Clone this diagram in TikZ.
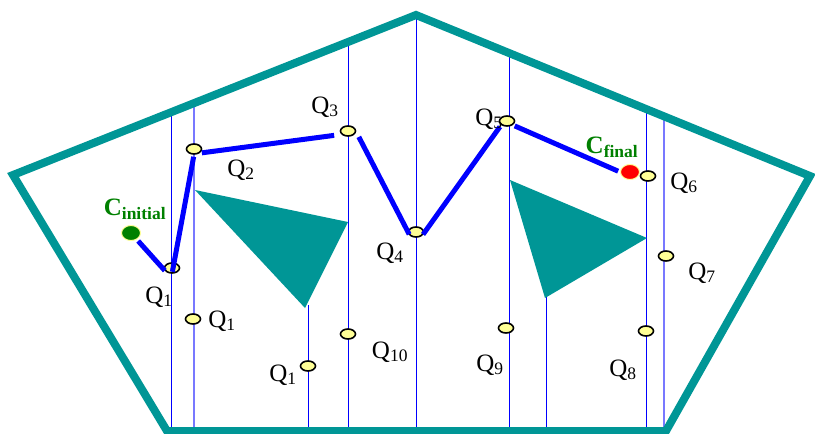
\documentclass[tikz,border=0pt]{standalone}
\usepackage{fontspec}
\setmainfont{Liberation Serif}
\usetikzlibrary{shapes.geometric}
\definecolor{tealc}{RGB}{0,150,150}
\definecolor{ptfill}{RGB}{255,255,150}
\definecolor{cgreen}{RGB}{0,128,0}
\definecolor{lblue}{RGB}{120,120,255}
\tikzset{
  border/.style={draw=tealc,line width=8pt,line join=miter},
  obst/.style={fill=tealc,draw=none},
  vline/.style={draw=blue,line width=1pt},
  vlinel/.style={draw=lblue,line width=1.4pt},
  pathseg/.style={draw=blue,line width=5pt,shorten <=2pt,shorten >=2pt},
  pt/.style={ellipse,draw=black,fill=ptfill,line width=1.6pt,minimum width=15pt,minimum height=10pt,inner sep=0pt},
  lbl/.style={font=\fontsize{25}{28}\selectfont,inner sep=0pt},
  clbl/.style={font=\fontsize{25}{28}\selectfont\bfseries,text=cgreen,inner sep=0pt},
}
\begin{document}
\begin{tikzpicture}[x=1pt,y=-1pt]
\useasboundingbox (0,0) rectangle (815,434);
% vertical lines
\draw[vline] (171,111) -- (171,430);
\draw[vlinel] (194,102) -- (194,430);
\draw[vline] (308,305) -- (308,430);
\draw[vline] (348,42) -- (348,430);
\draw[vline] (416,14) -- (416,430);
\draw[vline] (509,52) -- (509,430);
\draw[vline] (546,295) -- (546,430);
\draw[vline] (646,109) -- (646,430);
\draw[vlinel] (664,117) -- (664,430);
% obstacles
\fill[obst] (195,190) -- (348,222) -- (305,308) -- cycle;
\fill[obst] (510,180) -- (647,238) -- (545,298) -- cycle;
% border
\draw[border] (416,15) -- (810,176) -- (666,431) -- (167,431) -- (13,175) -- cycle;
% configuration points
\node[ellipse,fill=cgreen,draw=ptfill,line width=1pt,minimum width=19pt,minimum height=15pt,inner sep=0pt] (ci) at (131,233) {};
\node[ellipse,fill=red,draw=ptfill,line width=1pt,minimum width=19pt,minimum height=15pt,inner sep=0pt] (cf) at (630,172) {};
\node[pt] (q1) at (172,268) {};
\node[pt] (q2) at (194,149) {};
\node[pt] (q3) at (348,131) {};
\node[pt] (q4) at (416,232) {};
\node[pt] (q5) at (507,121) {};
\node[pt] (q6) at (648,176) {};
\node[pt] (q7) at (666,256) {};
\node[pt] (q8) at (646,331) {};
\node[pt] (q9) at (506,328) {};
\node[pt] (q10) at (348,334) {};
\node[pt] (q1b) at (308,366) {};
\node[pt] (q1c) at (193,319) {};
% path
\draw[pathseg] (ci) -- (q1.south west);
\draw[pathseg] (q1.south) -- (q2.south);
\draw[pathseg] (q2.south east) -- ([xshift=-6pt]q3.south west);
\draw[pathseg] ([xshift=4pt]q3.south east) -- (q4.south west);
\draw[pathseg] (q4.south east) -- (q5.south west);
\draw[pathseg] (q5.south east) -- (cf.west);
% labels
\node[lbl] (l1) at (159,297) {Q\textsubscript{1}};
\node[lbl] (l2) at (241,170) {Q\textsubscript{2}};
\node[lbl] (l3) at (325,107) {Q\textsubscript{3}};
\node[lbl] (l4) at (390,253) {Q\textsubscript{4}};
\node[lbl] (l5) at (489,119) {Q\textsubscript{5}};
\node[lbl] (l6) at (684,183) {Q\textsubscript{6}};
\node[lbl] (l7) at (702,273) {Q\textsubscript{7}};
\node[lbl] (l8) at (623,370) {Q\textsubscript{8}};
\node[lbl] (l9) at (490,365) {Q\textsubscript{9}};
\node[lbl] (l10) at (390,352) {Q\textsubscript{10}};
\node[lbl] (l1c) at (222,321) {Q\textsubscript{1}};
\node[lbl] (l1b) at (283,375) {Q\textsubscript{1}};
\node[clbl] (lci) at (135,209) {C\textsubscript{initial}};
\node[clbl] (lcf) at (612,147) {C\textsubscript{final}};
\end{tikzpicture}
\end{document}
